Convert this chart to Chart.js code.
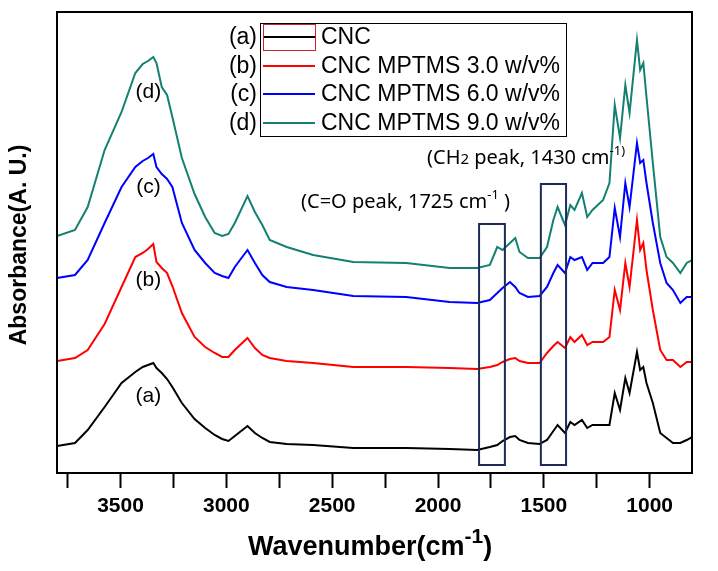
<!DOCTYPE html>
<html><head><meta charset="utf-8">
<script src="https://cdn.jsdelivr.net/npm/chart.js@4/dist/chart.umd.min.js"></script>
<style>html,body{margin:0;padding:0;background:#fff}canvas{display:block}</style>
</head><body>
<canvas id="c" width="718" height="571"></canvas>
<script>
// ---- data (wavenumber in cm-1, absorbance in arbitrary units, curves offset as in the figure)
const wavenumbers = [3800,3715,3655,3575,3495,3430,3395,3370,3345,3330,3305,3280,3255,3210,3150,3100,3055,3020,2990,2960,2900,2865,2830,2795,2715,2590,2400,2150,1945,1815,1755,1720,1695,1660,1635,1615,1575,1520,1485,1455,1435,1400,1375,1355,1320,1295,1270,1220,1190,1165,1140,1115,1095,1060,1045,1030,1015,985,950,920,890,855,825,800];
const absCNC = [0.32,0.35,0.48,0.71,0.95,1.06,1.11,1.13,1.15,1.10,1.05,0.99,0.91,0.75,0.59,0.50,0.43,0.39,0.37,0.42,0.52,0.45,0.40,0.36,0.34,0.33,0.30,0.30,0.29,0.28,0.31,0.33,0.37,0.41,0.42,0.38,0.35,0.34,0.38,0.47,0.53,0.45,0.56,0.53,0.58,0.50,0.53,0.53,0.53,0.85,0.68,1.00,0.85,1.26,1.08,1.11,0.95,0.75,0.45,0.40,0.35,0.35,0.38,0.41];
const absMPTMS3 = [1.17,1.20,1.28,1.54,1.91,2.21,2.25,2.29,2.34,2.16,2.10,2.05,1.92,1.65,1.41,1.31,1.25,1.21,1.21,1.28,1.40,1.30,1.23,1.20,1.17,1.15,1.11,1.11,1.10,1.09,1.11,1.13,1.16,1.19,1.20,1.17,1.15,1.15,1.25,1.32,1.36,1.30,1.41,1.36,1.43,1.33,1.36,1.36,1.41,1.88,1.68,2.15,1.91,2.58,2.28,2.35,2.08,1.68,1.28,1.18,1.18,1.11,1.16,1.16];
const absMPTMS6 = [2.00,2.03,2.18,2.55,2.91,3.11,3.17,3.20,3.24,3.11,3.04,2.99,2.91,2.55,2.28,2.15,2.05,2.02,2.00,2.11,2.28,2.15,2.03,1.96,1.91,1.88,1.82,1.81,1.76,1.75,1.78,1.85,1.90,1.96,1.91,1.85,1.81,1.82,1.91,2.05,2.13,2.05,2.21,2.18,2.21,2.08,2.15,2.15,2.21,2.70,2.41,2.95,2.71,3.35,3.15,3.18,2.95,2.55,2.15,1.95,1.88,1.75,1.81,1.81];
const absMPTMS9 = [2.42,2.48,2.71,3.28,3.66,4.05,4.14,4.17,4.21,4.15,3.91,3.83,3.61,3.20,2.84,2.61,2.45,2.42,2.44,2.55,2.82,2.66,2.53,2.38,2.31,2.23,2.16,2.15,2.10,2.10,2.13,2.31,2.28,2.35,2.40,2.26,2.20,2.20,2.31,2.58,2.71,2.53,2.73,2.68,2.85,2.61,2.68,2.78,2.95,3.73,3.40,3.93,3.65,4.38,4.08,4.15,3.81,3.15,2.41,2.21,2.15,2.05,2.15,2.18];
const seriesLabels = ["CNC","CNC MPTMS 3.0 w/v%","CNC MPTMS 6.0 w/v%","CNC MPTMS 9.0 w/v%"];
const seriesTags = ["(a)","(b)","(c)","(d)"];
const seriesColors = ["#000000","#ff0000","#0000ff","#138071"];
const xTickValues = [3750,3500,3250,3000,2750,2500,2250,2000,1750,1500,1250,1000];
const xMajorTicks = [3500,3000,2500,2000,1500,1000];

const allSeries = [absCNC, absMPTMS3, absMPTMS6, absMPTMS9];
const datasets = allSeries.map((arr, i) => ({
  label: seriesLabels[i],
  data: wavenumbers.map((w, k) => ({x: w, y: arr[k]})),
  borderColor: seriesColors[i],
  borderWidth: 2,
  pointRadius: 0,
  tension: 0,
  fill: false
}));

function drawRich(ctx, parts, x, y) {
  let cx = x;
  parts.forEach(p => {
    ctx.font = p.f;
    ctx.textAlign = 'left';
    ctx.textBaseline = 'middle';
    ctx.fillText(p.t, cx, y + (p.dy || 0));
    cx += ctx.measureText(p.t).width;
  });
}

const decor = {
  id: 'decor',
  afterDraw(chart) {
    const ctx = chart.ctx, a = chart.chartArea;
    const xs = chart.scales.x, ys = chart.scales.y;
    ctx.save();
    // frame
    ctx.strokeStyle = '#000'; ctx.lineWidth = 2;
    ctx.strokeRect(a.left, a.top, a.right - a.left, a.bottom - a.top);
    // highlight boxes (C=O, CH2)
    ctx.strokeStyle = '#1c2b5a'; ctx.lineWidth = 2;
    [[1806,1684,2.54],[1514,1395,2.94]].forEach(b => {
      const x1 = xs.getPixelForValue(b[0]), x2 = xs.getPixelForValue(b[1]);
      const y1 = ys.getPixelForValue(b[2]), y2 = ys.getPixelForValue(0.13);
      ctx.strokeRect(x1, y1, x2 - x1, y2 - y1);
    });
    ctx.fillStyle = '#000';
    // curve tags
    const tagY = [0.82, 1.98, 2.91, 3.86];
    ctx.font = '21px "Liberation Sans", Arial';
    ctx.textAlign = 'center'; ctx.textBaseline = 'middle';
    seriesTags.forEach((t, i) => {
      ctx.fillText(t, xs.getPixelForValue(3368), ys.getPixelForValue(tagY[i]));
    });
    // peak annotations
    const af = '20px "Noto Sans", sans-serif', sf = '13px "Noto Sans", sans-serif';
    drawRich(ctx, [{t:'(C=O peak, 1725 cm', f:af},{t:'-1', f:sf, dy:-7},{t:' )', f:af}], 301, 202);
    drawRich(ctx, [{t:'(CH', f:af},{t:'2', f:'15px "Noto Sans", sans-serif', dy:2},{t:' peak, 1430 cm', f:af},{t:'-1)', f:sf, dy:-7}], 427, 158);
    // legend
    ctx.strokeStyle = '#000'; ctx.lineWidth = 1;
    ctx.strokeRect(260.5, 23.5, 306, 113);
    const rows = [37, 66, 94, 123];
    seriesLabels.forEach((lab, i) => {
      ctx.strokeStyle = seriesColors[i]; ctx.lineWidth = 2;
      ctx.beginPath(); ctx.moveTo(263, rows[i]); ctx.lineTo(315, rows[i]); ctx.stroke();
      ctx.fillStyle = '#000';
      ctx.font = '23px "Liberation Sans", Arial';
      ctx.textAlign = 'left'; ctx.textBaseline = 'middle';
      ctx.fillText(lab, 321, rows[i] + 1);
      ctx.textAlign = 'right';
      ctx.fillText(seriesTags[i], 257, rows[i] + 1);
    });
    ctx.strokeStyle = '#cc2233'; ctx.lineWidth = 1;
    ctx.strokeRect(263.5, 24.5, 52, 26);
    // axis titles
    ctx.fillStyle = '#000';
    drawRich(ctx, [{t:'Wavenumber(cm', f:'bold 27px "Liberation Sans", Arial'},{t:'-1', f:'bold 21px "Liberation Sans", Arial', dy:-11},{t:')', f:'bold 27px "Liberation Sans", Arial'}], 248, 548);
    ctx.translate(20, 245); ctx.rotate(-Math.PI / 2);
    ctx.font = 'bold 23px "Liberation Sans", Arial';
    ctx.textAlign = 'center'; ctx.textBaseline = 'middle';
    ctx.fillText('Absorbance(A. U.)', 0, 0);
    ctx.restore();
  }
};

new Chart(document.getElementById('c'), {
  type: 'line',
  data: { datasets },
  options: {
    responsive: false,
    animation: false,
    layout: { padding: { left: 57, top: 12, right: 26, bottom: 0 } },
    plugins: { legend: { display: false }, tooltip: { enabled: false } },
    scales: {
      x: {
        type: 'linear', reverse: true, min: 800, max: 3800,
        afterFit: s => { s.height = 98; },
        afterBuildTicks: s => { s.ticks = xTickValues.map(v => ({ value: v })); },
        border: { display: false },
        grid: { display: true, drawOnChartArea: false, drawTicks: true, tickLength: 15, tickWidth: 2, tickColor: '#000' },
        ticks: {
          autoSkip: false, maxRotation: 0, minRotation: 0, padding: 6,
          color: '#000', font: { family: '"Liberation Sans", Arial', weight: 'bold', size: 21 },
          callback: v => xMajorTicks.includes(v) ? String(v) : ''
        }
      },
      y: { display: false, min: 0.05, max: 4.66 }
    }
  },
  plugins: [decor]
});
</script>
</body></html>
